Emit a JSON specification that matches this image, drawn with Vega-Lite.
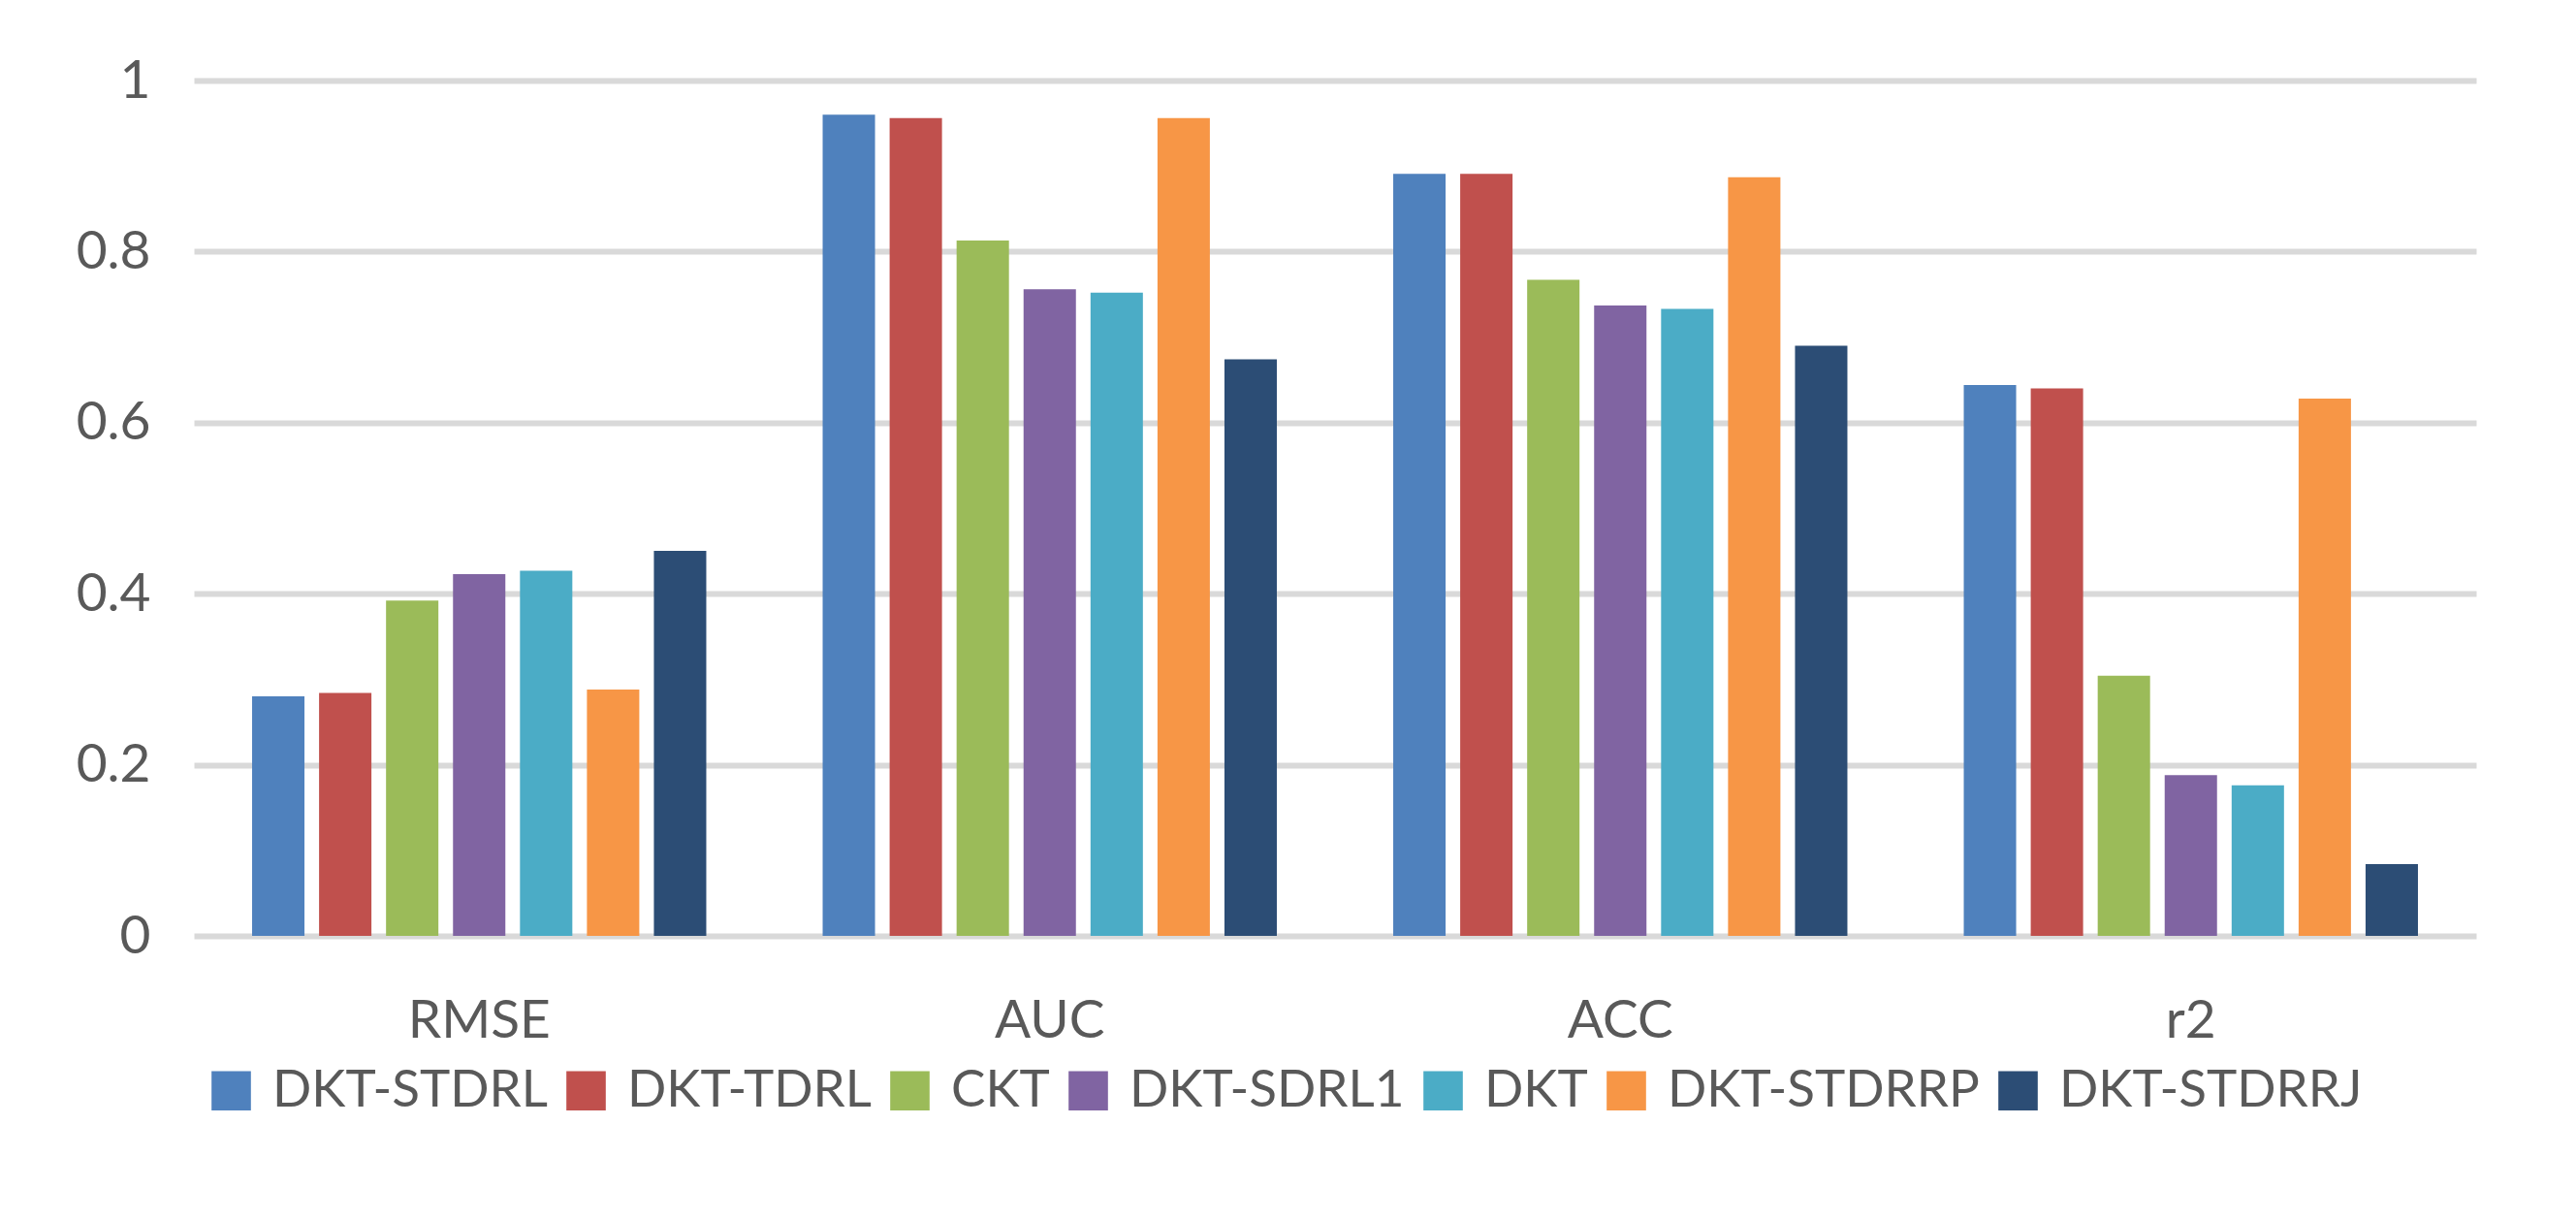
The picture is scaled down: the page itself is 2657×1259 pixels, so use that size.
{
  "$schema": "https://vega.github.io/schema/vega-lite/v6.json",
  "autosize": {"type": "none"},
  "padding": {"left": 200, "top": 83, "right": 103, "bottom": 294},
  "width": 2354,
  "height": 882,
  "background": "white",
  "data": {
    "values": [
      {"metric": "RMSE", "model": "DKT-STDRL", "value": 0.280},
      {"metric": "RMSE", "model": "DKT-TDRL", "value": 0.284},
      {"metric": "RMSE", "model": "CKT", "value": 0.392},
      {"metric": "RMSE", "model": "DKT-SDRL1", "value": 0.423},
      {"metric": "RMSE", "model": "DKT", "value": 0.427},
      {"metric": "RMSE", "model": "DKT-STDRRP", "value": 0.288},
      {"metric": "RMSE", "model": "DKT-STDRRJ", "value": 0.450},
      {"metric": "AUC", "model": "DKT-STDRL", "value": 0.960},
      {"metric": "AUC", "model": "DKT-TDRL", "value": 0.956},
      {"metric": "AUC", "model": "CKT", "value": 0.813},
      {"metric": "AUC", "model": "DKT-SDRL1", "value": 0.756},
      {"metric": "AUC", "model": "DKT", "value": 0.752},
      {"metric": "AUC", "model": "DKT-STDRRP", "value": 0.956},
      {"metric": "AUC", "model": "DKT-STDRRJ", "value": 0.674},
      {"metric": "ACC", "model": "DKT-STDRL", "value": 0.891},
      {"metric": "ACC", "model": "DKT-TDRL", "value": 0.891},
      {"metric": "ACC", "model": "CKT", "value": 0.767},
      {"metric": "ACC", "model": "DKT-SDRL1", "value": 0.737},
      {"metric": "ACC", "model": "DKT", "value": 0.733},
      {"metric": "ACC", "model": "DKT-STDRRP", "value": 0.887},
      {"metric": "ACC", "model": "DKT-STDRRJ", "value": 0.690},
      {"metric": "r2", "model": "DKT-STDRL", "value": 0.644},
      {"metric": "r2", "model": "DKT-TDRL", "value": 0.640},
      {"metric": "r2", "model": "CKT", "value": 0.304},
      {"metric": "r2", "model": "DKT-SDRL1", "value": 0.188},
      {"metric": "r2", "model": "DKT", "value": 0.176},
      {"metric": "r2", "model": "DKT-STDRRP", "value": 0.628},
      {"metric": "r2", "model": "DKT-STDRRJ", "value": 0.084}
    ]
  },
  "mark": {"type": "bar"},
  "encoding": {
    "x": {
      "field": "metric",
      "type": "nominal",
      "sort": ["RMSE", "AUC", "ACC", "r2"],
      "scale": {"paddingInner": 0.204, "paddingOuter": 0.102},
      "axis": {
        "title": null,
        "labelAngle": 0,
        "ticks": false,
        "domain": false,
        "labelPadding": 61,
        "labelFont": "Lato",
        "labelFontSize": 55,
        "labelColor": "#595959"
      }
    },
    "xOffset": {
      "field": "model",
      "type": "nominal",
      "sort": ["DKT-STDRL", "DKT-TDRL", "CKT", "DKT-SDRL1", "DKT", "DKT-STDRRP", "DKT-STDRRJ"],
      "scale": {"paddingInner": 0.218, "paddingOuter": 0}
    },
    "y": {
      "field": "value",
      "type": "quantitative",
      "scale": {"domain": [0, 1], "nice": false, "zero": true},
      "axis": {
        "title": null,
        "values": [0, 0.2, 0.4, 0.6, 0.8, 1],
        "format": "~g",
        "ticks": false,
        "domain": false,
        "grid": true,
        "gridColor": "#d9d9d9",
        "gridWidth": 6,
        "labelPadding": 45,
        "labelFont": "Lato",
        "labelFontSize": 55,
        "labelColor": "#595959"
      }
    },
    "color": {
      "field": "model",
      "type": "nominal",
      "sort": ["DKT-STDRL", "DKT-TDRL", "CKT", "DKT-SDRL1", "DKT", "DKT-STDRRP", "DKT-STDRRJ"],
      "scale": {
        "domain": ["DKT-STDRL", "DKT-TDRL", "CKT", "DKT-SDRL1", "DKT", "DKT-STDRRP", "DKT-STDRRJ"],
        "range": ["#4F81BD", "#C0504D", "#9BBB59", "#8064A2", "#4BACC6", "#F79646", "#2C4D75"]
      },
      "legend": {
        "title": null,
        "orient": "none",
        "direction": "horizontal",
        "legendX": 12,
        "legendY": 1015,
        "columns": 7,
        "symbolType": "square",
        "symbolSize": 1650,
        "symbolStrokeWidth": 0,
        "labelOffset": 16,
        "columnPadding": 13,
        "padding": 0,
        "labelFont": "Lato",
        "labelFontSize": 53,
        "labelColor": "#595959",
        "labelLimit": 0
      }
    }
  },
  "config": {
    "view": {"stroke": null},
    "font": "Lato"
  }
}
